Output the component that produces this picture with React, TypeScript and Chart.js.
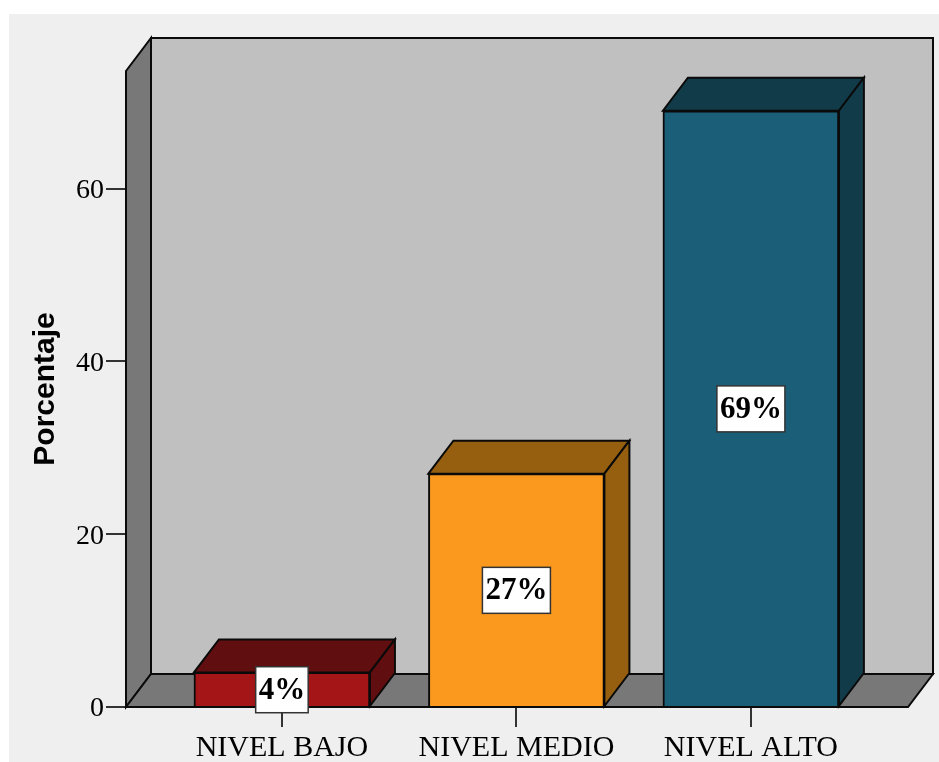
import React, { useEffect, useRef } from "react";
import { Chart, registerables } from "chart.js";

Chart.register(...registerables);

const categories = ["NIVEL BAJO", "NIVEL MEDIO", "NIVEL ALTO"];
const percentages = [4, 27, 69];
const frontColors = ["#a31516", "#fb991e", "#1b5e77"];
const shadeColors = ["#600e0f", "#965f10", "#123b49"];
const axisTitle = "Porcentaje";

const DEPTH_X = 25;
const DEPTH_Y = 33;
const INK = "#0a0a0a";

function polygon(ctx: CanvasRenderingContext2D, pts: number[][], fill: string) {
  ctx.beginPath();
  pts.forEach(([x, y], i) => (i ? ctx.lineTo(x, y) : ctx.moveTo(x, y)));
  ctx.closePath();
  ctx.fillStyle = fill;
  ctx.fill();
  ctx.strokeStyle = INK;
  ctx.lineWidth = 2;
  ctx.lineJoin = "miter";
  ctx.stroke();
}

// Page panel, the box walls and floor behind the bars, and the depth faces of each bar.
const boxPlugin = {
  id: "box3d",
  beforeDraw(chart: any) {
    const ctx = chart.ctx;
    ctx.save();
    ctx.fillStyle = "#ffffff";
    ctx.fillRect(0, 0, chart.width, chart.height);
    ctx.fillStyle = "#efefef";
    ctx.fillRect(9, 14, chart.width - 9, chart.height - 14);
    ctx.restore();
  },
  beforeDatasetsDraw(chart: any) {
    const { ctx, chartArea: a } = chart;
    const meta = chart.getDatasetMeta(0);
    ctx.save();
    polygon(ctx, [
      [a.left + DEPTH_X, a.top - DEPTH_Y],
      [a.right + DEPTH_X, a.top - DEPTH_Y],
      [a.right + DEPTH_X, a.bottom - DEPTH_Y],
      [a.left + DEPTH_X, a.bottom - DEPTH_Y],
    ], "#c0c0c0");
    polygon(ctx, [
      [a.left, a.top],
      [a.left + DEPTH_X, a.top - DEPTH_Y],
      [a.left + DEPTH_X, a.bottom - DEPTH_Y],
      [a.left, a.bottom],
    ], "#787878");
    polygon(ctx, [
      [a.left, a.bottom],
      [a.left + DEPTH_X, a.bottom - DEPTH_Y],
      [a.right + DEPTH_X, a.bottom - DEPTH_Y],
      [a.right, a.bottom],
    ], "#787878");
    meta.data.forEach((bar: any, i: number) => {
      const x0 = bar.x - bar.width / 2;
      const x1 = bar.x + bar.width / 2;
      polygon(ctx, [
        [x0, bar.y],
        [x0 + DEPTH_X, bar.y - DEPTH_Y],
        [x1 + DEPTH_X, bar.y - DEPTH_Y],
        [x1, bar.y],
      ], shadeColors[i]);
      polygon(ctx, [
        [x1, bar.y],
        [x1 + DEPTH_X, bar.y - DEPTH_Y],
        [x1 + DEPTH_X, bar.base - DEPTH_Y],
        [x1, bar.base],
      ], shadeColors[i]);
    });
    ctx.restore();
  },
  afterDraw(chart: any) {
    const { ctx, scales } = chart;
    const meta = chart.getDatasetMeta(0);
    ctx.save();
    ctx.font = "bold 31px 'Liberation Serif'";
    ctx.textAlign = "center";
    ctx.textBaseline = "middle";
    meta.data.forEach((bar: any, i: number) => {
      const text = `${percentages[i]}%`;
      const w = ctx.measureText(text).width + 6;
      const h = 46;
      const cx = bar.x;
      const cy = scales.y.getPixelForValue(percentages[i] / 2);
      ctx.fillStyle = "#ffffff";
      ctx.strokeStyle = "#333333";
      ctx.lineWidth = 1.5;
      ctx.fillRect(cx - w / 2, cy - h / 2, w, h);
      ctx.strokeRect(cx - w / 2, cy - h / 2, w, h);
      ctx.fillStyle = "#000000";
      ctx.fillText(text, cx, cy + 1);
    });
    ctx.restore();
  },
};

export default function App() {
  const ref = useRef<HTMLCanvasElement | null>(null);

  useEffect(() => {
    document.body.style.margin = "0";
    const chart = new Chart(ref.current as HTMLCanvasElement, {
      type: "bar",
      data: {
        datasets: [
          {
            data: percentages.map((y, x) => ({ x, y })),
            backgroundColor: frontColors,
            borderColor: INK,
            borderWidth: 2,
            barThickness: 176,
          },
        ],
      },
      plugins: [boxPlugin],
      options: {
        animation: false,
        responsive: false,
        layout: { padding: { top: 71, right: 31, left: 0, bottom: 0 } },
        plugins: { legend: { display: false }, tooltip: { enabled: false } },
        scales: {
          x: {
            type: "linear",
            offset: false,
            min: -0.665,
            max: 2.67,
            afterFit: (s: any) => {
              s.height = 55;
            },
            border: { display: false },
            grid: { offset: false, drawOnChartArea: false, drawTicks: true, tickLength: 20, tickColor: "#333333", lineWidth: 2 },
            ticks: {
              stepSize: 1,
              includeBounds: false,
              maxRotation: 0,
              autoSkip: false,
              padding: 3,
              color: "#000000",
              font: { family: "'Liberation Serif'", size: 30 },
              callback: (v: any) => categories[v as number] ?? "",
            },
          },
          y: {
            min: 0,
            max: 73.6,
            afterFit: (s: any) => {
              s.width = 126;
            },
            border: { display: false },
            grid: { drawOnChartArea: false, drawTicks: true, tickLength: 20, tickColor: "#333333", lineWidth: 2 },
            ticks: {
              stepSize: 20,
              includeBounds: false,
              padding: 2,
              labelOffset: 2,
              color: "#000000",
              font: { family: "'Liberation Serif'", size: 28 },
            },
            title: {
              display: true,
              text: axisTitle,
              color: "#000000",
              padding: { top: 28, bottom: 0 },
              font: { family: "'Liberation Sans'", size: 30, weight: "bold" },
            },
          },
        },
      },
    } as any);
    return () => chart.destroy();
  }, []);

  return <canvas ref={ref} width={939} height={762} style={{ display: "block" }} />;
}
